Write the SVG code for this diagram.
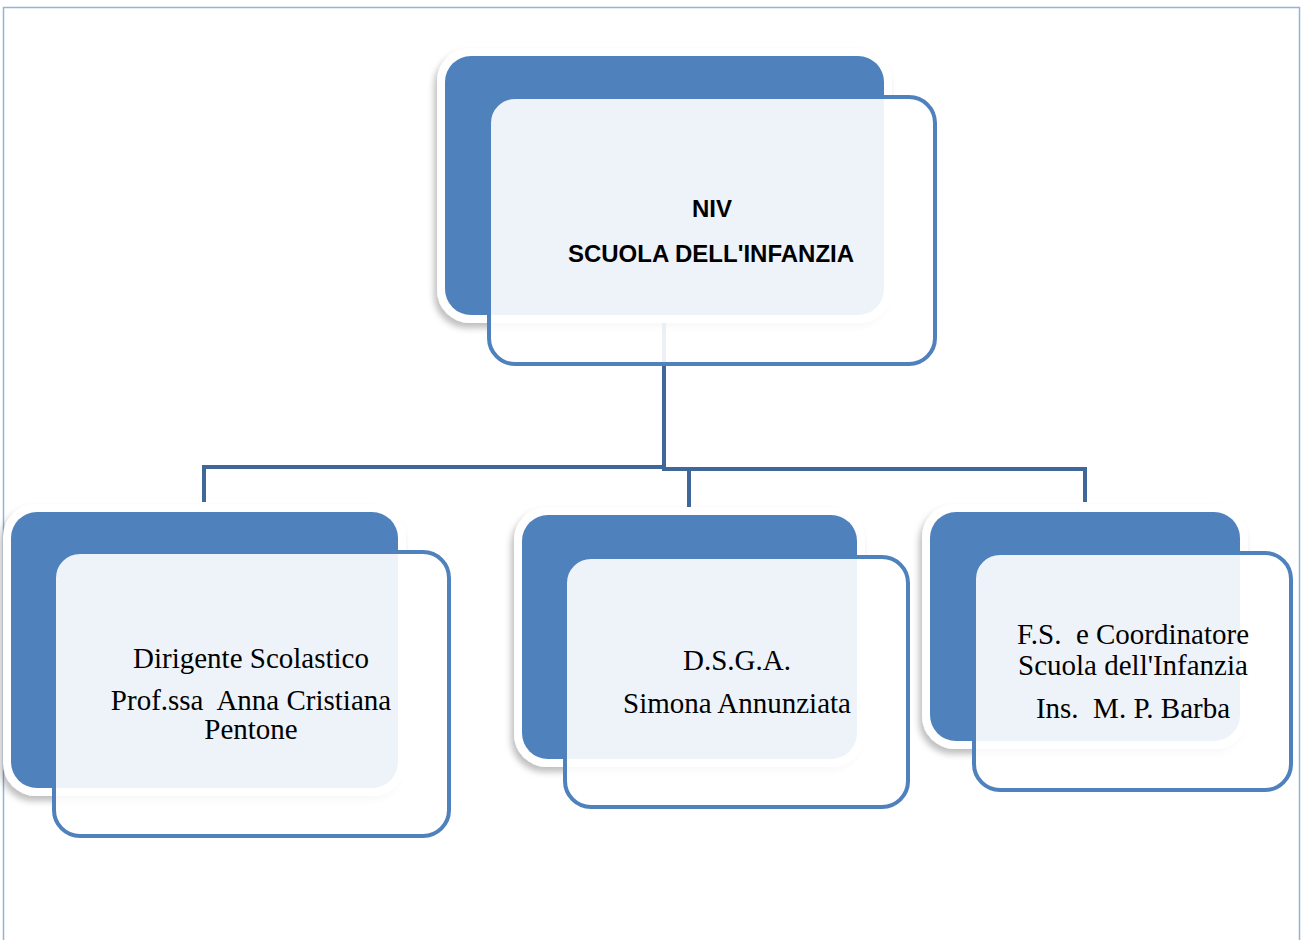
<svg xmlns="http://www.w3.org/2000/svg" width="1302" height="940" viewBox="0 0 1302 940">
  <style>
    .halo { fill: #ffffff; filter: url(#shadow); }
    .back { fill: #4f81bd; }
    .front { fill: #ffffff; fill-opacity: 0.9; stroke: #4f81bd; stroke-width: 4; }
    .link { fill: none; stroke: #3f6799; stroke-width: 4; stroke-linecap: square; }
    .title { font-family: "Liberation Sans", Arial, sans-serif; font-weight: bold; font-size: 24px; fill: #000; text-anchor: middle; }
    .label { font-family: "Liberation Serif", "Times New Roman", serif; font-size: 29px; fill: #000; text-anchor: middle; }
  </style>
  <defs>
    <filter id="shadow" x="-10%" y="-10%" width="120%" height="125%">
      <feDropShadow dx="-3" dy="5" stdDeviation="3" flood-color="#000000" flood-opacity="0.25"/>
    </filter>
  </defs>

  <rect width="1302" height="940" fill="#ffffff"/>
  <!-- page frame -->
  <path d="M3.5 940 V7.5 H1299.5 V940" fill="none" stroke="#95b3d7" stroke-width="1.5"/>

  <!-- connectors -->
  <g id="connectors">
    <path class="link" d="M664 318 V467"/>
    <path class="link" d="M204 500 V467 H664"/>
    <path class="link" d="M664 469 H1085 V500"/>
    <path class="link" d="M664 469 H689 V505"/>
  </g>

  <!-- root -->
  <g id="node-niv">
    <rect class="halo" x="437" y="48" width="455" height="275" rx="33"/>
    <rect class="back" x="445" y="56" width="439" height="259" rx="26"/>
    <rect class="front" x="489" y="97" width="446" height="267" rx="26"/>
    <text class="title" x="712" y="217">NIV</text>
    <text class="title" x="711" y="262">SCUOLA DELL'INFANZIA</text>
  </g>

  <!-- children -->
  <g id="node-dirigente">
    <rect class="halo" x="3" y="504" width="403" height="292" rx="33"/>
    <rect class="back" x="11" y="512" width="387" height="276" rx="26"/>
    <rect class="front" x="54" y="552" width="395" height="284" rx="26"/>
    <text class="label" x="251" y="668">Dirigente Scolastico</text>
    <text class="label" x="251" y="710" xml:space="preserve">Prof.ssa  Anna Cristiana</text>
    <text class="label" x="251" y="739">Pentone</text>
  </g>

  <g id="node-dsga">
    <rect class="halo" x="514" y="507" width="351" height="260" rx="33"/>
    <rect class="back" x="522" y="515" width="335" height="244" rx="26"/>
    <rect class="front" x="565" y="557" width="343" height="250" rx="26"/>
    <text class="label" x="737" y="670">D.S.G.A.</text>
    <text class="label" x="737" y="713">Simona Annunziata</text>
  </g>

  <g id="node-fs">
    <rect class="halo" x="922" y="504" width="326" height="245" rx="33"/>
    <rect class="back" x="930" y="512" width="310" height="229" rx="26"/>
    <rect class="front" x="974" y="553" width="317" height="237" rx="26"/>
    <text class="label" x="1133" y="644" xml:space="preserve">F.S.  e Coordinatore</text>
    <text class="label" x="1133" y="675">Scuola dell'Infanzia</text>
    <text class="label" x="1133" y="718" xml:space="preserve">Ins.  M. P. Barba</text>
  </g>
</svg>
